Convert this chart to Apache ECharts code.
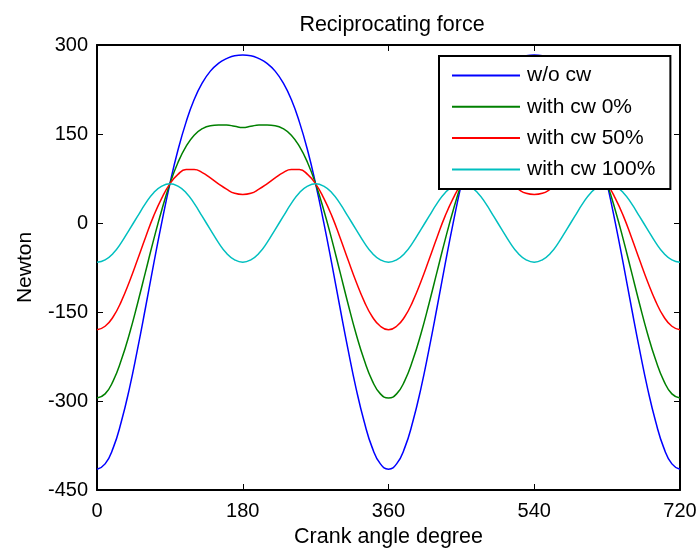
<!DOCTYPE html>
<html>
<head>
<meta charset="utf-8">
<script src="https://cdn.jsdelivr.net/npm/echarts@6/dist/echarts.min.js"></script>
<style>html,body{margin:0;padding:0;background:#fff;}#c{width:700px;height:553px;}</style>
</head>
<body>
<div id="c"></div>
<script>
var angles = [0,10,20,30,40,50,60,70,80,90,100,110,120,130,140,150,160,170,180,190,200,210,220,230,240,250,260,270,280,290,300,310,320,330,340,350,360,370,380,390,400,410,420,430,440,450,460,470,480,490,500,510,520,530,540,550,560,570,580,590,600,610,620,630,640,650,660,670,680,690,700,710,720];

var woCw = [-415,-406,-379,-335,-279,-213,-142,-69,1,66,123,170,208,236,256,269,277,282,283,282,277,269,256,236,208,170,123,66,1,-69,-142,-213,-279,-335,-379,-406,-415,
            -406,-379,-335,-279,-213,-142,-69,1,66,123,170,208,236,256,269,277,282,283,282,277,269,256,236,208,170,123,66,1,-69,-142,-213,-279,-335,-379,-406,-415];

var cw0 = [-295,-288,-266,-231,-187,-136,-82,-28,22,66,102,129,148,159,164,165,165,163,161,163,165,165,164,159,148,129,102,66,22,-28,-82,-136,-187,-231,-266,-288,-295,
           -288,-266,-231,-187,-136,-82,-28,22,66,102,129,148,159,164,165,165,163,161,163,165,165,164,159,148,129,102,66,22,-28,-82,-136,-187,-231,-266,-288,-295];

var cw50 = [-180,-174,-158,-132,-99,-62,-24,12,42,66,82,90,90,85,76,66,57,50,48,50,57,66,76,85,90,90,82,66,42,12,-24,-62,-99,-132,-158,-174,-180,
            -174,-158,-132,-99,-62,-24,12,42,66,82,90,90,85,76,66,57,50,48,50,57,66,76,85,90,90,82,66,42,12,-24,-62,-99,-132,-158,-174,-180];

var cw100 = [-66,-62,-51,-33,-11,11,33,51,62,66,62,51,33,11,-11,-33,-51,-62,-66,-62,-51,-33,-11,11,33,51,62,66,62,51,33,11,-11,-33,-51,-62,-66,
             -62,-51,-33,-11,11,33,51,62,66,62,51,33,11,-11,-33,-51,-62,-66,-62,-51,-33,-11,11,33,51,62,66,62,51,33,11,-11,-33,-51,-62,-66];

var seriesNames = ['w/o cw', 'with cw 0%', 'with cw 50%', 'with cw 100%'];
var seriesValues = [woCw, cw0, cw50, cw100];
var seriesColors = ['#0000FF', '#008000', '#FF0000', '#00BFBF'];
var xTicks = [0, 180, 360, 540, 720];
var yTicks = [-450, -300, -150, 0, 150, 300];

var FONT = '"Liberation Sans", Arial, sans-serif';

function pairs(vals) {
  return angles.map(function (a, i) { return [a, vals[i]]; });
}

var axisLineStyle = { show: true, onZero: false, lineStyle: { color: '#000', width: 2 } };
var tickStyle = { show: true, inside: true, length: 6, lineStyle: { color: '#000', width: 1 } };

var chart = echarts.init(document.getElementById('c'), null, { renderer: 'canvas' });
chart.setOption({
  animation: false,
  backgroundColor: '#fff',
  title: {
    text: 'Reciprocating force',
    left: 387,
    top: 9,
    textAlign: 'center',
    textStyle: { fontFamily: FONT, fontSize: 21.5, fontWeight: 'normal', color: '#000' }
  },
  grid: { left: 97, right: 20, top: 45, bottom: 62, containLabel: false },
  legend: {
    orient: 'vertical',
    left: 439,
    top: 56,
    padding: [9, 15, 9, 13],
    icon: 'rect',
    itemWidth: 68,
    itemHeight: 2,
    itemGap: 10.3,
    backgroundColor: '#fff',
    borderColor: '#000',
    borderWidth: 2,
    data: seriesNames,
    textStyle: { fontFamily: FONT, fontSize: 21, lineHeight: 21, color: '#000', padding: [0, 0, 0, 2] }
  },
  xAxis: [{
    type: 'value',
    min: xTicks[0], max: xTicks[xTicks.length - 1], interval: 180,
    name: 'Crank angle degree',
    nameLocation: 'middle',
    nameGap: 36,
    nameTextStyle: { fontFamily: FONT, fontSize: 21.5, color: '#000' },
    axisLine: axisLineStyle,
    axisTick: tickStyle,
    axisLabel: { fontFamily: FONT, fontSize: 20, color: '#000', margin: 11 },
    splitLine: { show: false }
  }, {
    type: 'value', position: 'top',
    min: xTicks[0], max: xTicks[xTicks.length - 1], interval: 180,
    axisLine: axisLineStyle, axisTick: tickStyle,
    axisLabel: { show: false }, splitLine: { show: false }
  }],
  yAxis: [{
    type: 'value',
    min: yTicks[0], max: yTicks[yTicks.length - 1], interval: 150,
    name: 'Newton',
    nameLocation: 'middle',
    nameGap: 61,
    nameTextStyle: { fontFamily: FONT, fontSize: 21, color: '#000' },
    axisLine: axisLineStyle,
    axisTick: tickStyle,
    axisLabel: { fontFamily: FONT, fontSize: 20, color: '#000', margin: 9 },
    splitLine: { show: false }
  }, {
    type: 'value', position: 'right',
    min: yTicks[0], max: yTicks[yTicks.length - 1], interval: 150,
    axisLine: axisLineStyle, axisTick: tickStyle,
    axisLabel: { show: false }, splitLine: { show: false }
  }],
  series: seriesNames.map(function (n, i) {
    return {
      name: n,
      type: 'line',
      xAxisIndex: 0,
      yAxisIndex: 0,
      data: pairs(seriesValues[i]),
      smooth: true,
      symbol: 'none',
      color: seriesColors[i],
      lineStyle: { color: seriesColors[i], width: 1.5 },
      z: 2
    };
  })
});
</script>
</body>
</html>
